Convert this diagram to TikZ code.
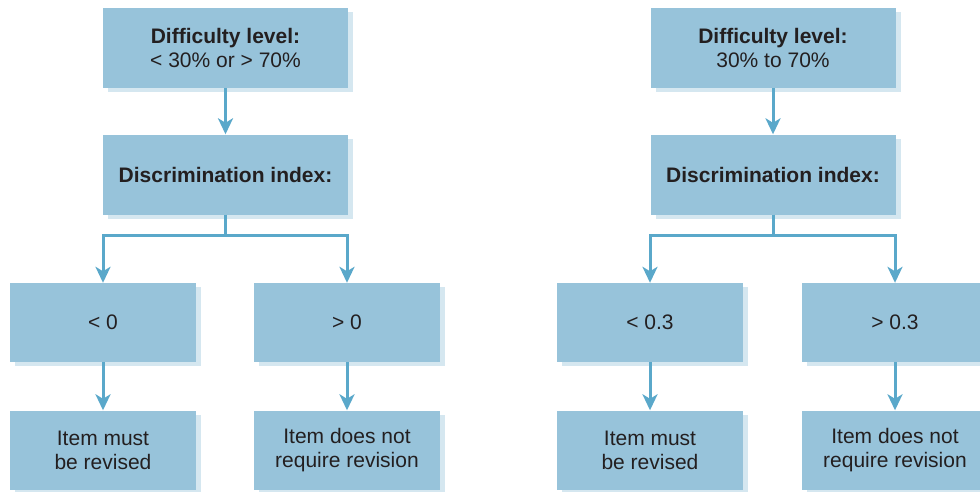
\documentclass[tikz,border=0pt]{standalone}
\usepackage{fontspec}
\setmainfont{Liberation Sans}
\usetikzlibrary{arrows.meta,shadows,positioning}
\definecolor{boxfill}{HTML}{97C3DA}
\definecolor{shadowcol}{HTML}{D5E7F0}
\definecolor{arrcol}{HTML}{5AA8CA}
\definecolor{txtcol}{HTML}{231F20}
\tikzset{
  basebox/.style={rectangle, fill=boxfill, inner sep=0pt, align=center,
    text=txtcol, font=\fontsize{21}{24}\selectfont,
    drop shadow={shadow xshift=5pt, shadow yshift=-4pt, fill=shadowcol, opacity=1}},
  bigbox/.style={basebox, minimum width=245pt, minimum height=80pt},
  smallbox/.style={basebox, minimum width=186pt, minimum height=79pt},
  arr/.style={draw=arrcol, line width=3pt,
    -{Stealth[length=16pt, width=15pt, inset=4.5pt]}},
  conn/.style={draw=arrcol, line width=3pt}
}
\begin{document}
\begin{tikzpicture}[x=1pt,y=1pt]
\useasboundingbox (0,0) rectangle (980,-491);
% left column
\node[bigbox] (lt) at (225.5,-48) {\textbf{Difficulty level:}\\ < 30\% or > 70\%};
\node[bigbox] (ld) at (225.5,-174.5) {\textbf{Discrimination index:}};
\node[smallbox] (la) at (103,-322.5) {< 0};
\node[smallbox] (lb) at (347,-322.5) {> 0};
\node[smallbox] (lc) at (103,-450) {Item must\\ be revised};
\node[smallbox] (le) at (347,-450) {Item does not\\ require revision};
% right column
\node[bigbox] (rt) at (773,-48) {\textbf{Difficulty level:}\\ 30\% to 70\%};
\node[bigbox] (rd) at (773,-174.5) {\textbf{Discrimination index:}};
\node[smallbox] (ra) at (650,-322.5) {< 0.3};
\node[smallbox] (rb) at (895,-322.5) {> 0.3};
\node[smallbox] (rc) at (650,-450) {Item must\\ be revised};
\node[smallbox] (re) at (895,-450) {Item does not\\ require revision};
% junctions
\coordinate (lj) at (225.5,-235);
\coordinate (rj) at (773,-235);
% connectors left
\draw[arr] (lt.south) -- (ld.north);
\draw[conn] (ld.south) -- (lj);
\draw[arr] (lj) -| (la.north);
\draw[arr] (lj) -| (lb.north);
\draw[arr] (la.south) -- (lc.north);
\draw[arr] (lb.south) -- (le.north);
% connectors right
\draw[arr] (rt.south) -- (rd.north);
\draw[conn] (rd.south) -- (rj);
\draw[arr] (rj) -| (ra.north);
\draw[arr] (rj) -| (rb.north);
\draw[arr] (ra.south) -- (rc.north);
\draw[arr] (rb.south) -- (re.north);
\end{tikzpicture}
\end{document}
